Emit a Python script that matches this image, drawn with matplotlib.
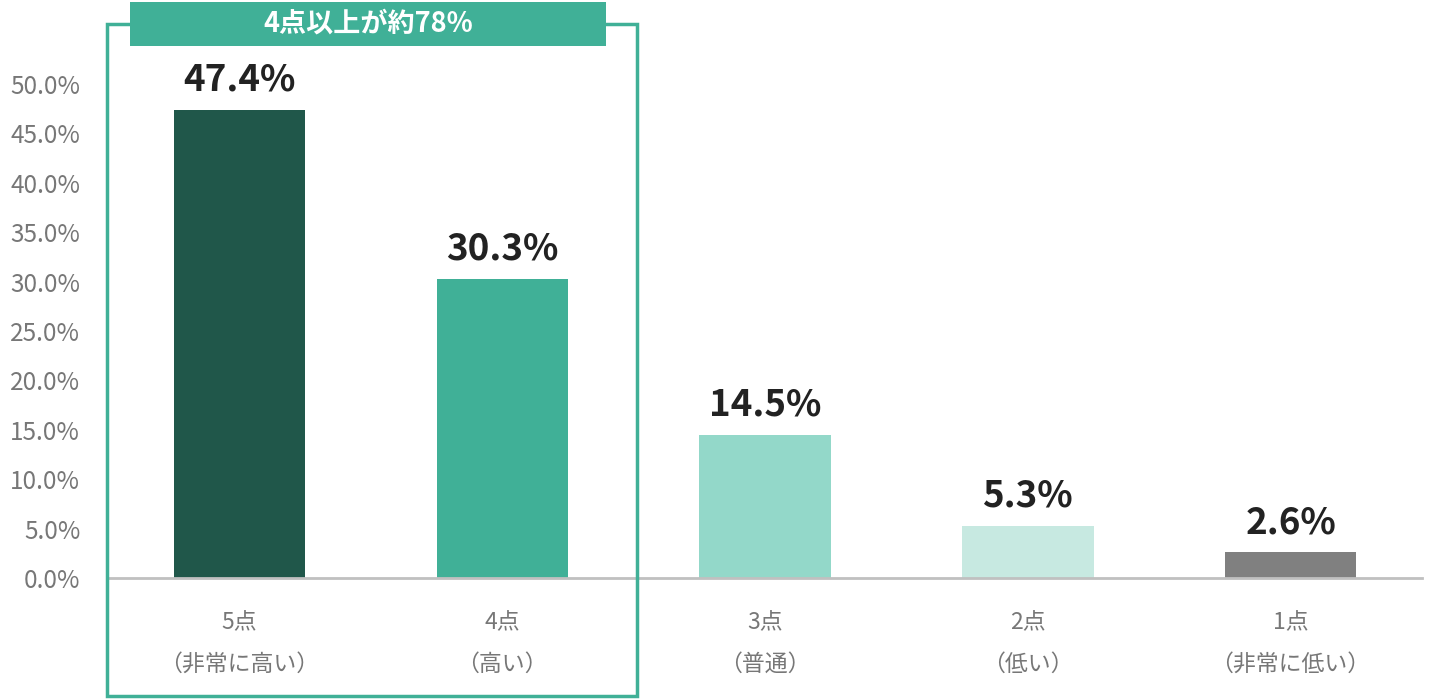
import matplotlib
matplotlib.use("Agg")
import matplotlib.pyplot as plt
from matplotlib.patches import Rectangle

plt.rcParams['font.family'] = ['Noto Sans CJK JP', 'DejaVu Sans']

categories = ["5点\n（非常に高い）", "4点\n（高い）", "3点\n（普通）", "2点\n（低い）", "1点\n（非常に低い）"]
values = [47.4, 30.3, 14.5, 5.3, 2.6]
colors = ["#20574a", "#40b097", "#93d8c9", "#c7e9e1", "#808080"]
yticks = [0, 5, 10, 15, 20, 25, 30, 35, 40, 45, 50]
header = "4点以上が約78%"

fig = plt.figure(figsize=(14.4, 7), dpi=100)
ax = fig.add_axes([108 / 1440, 1 - 578 / 700, (1422 - 108) / 1440, (578 - 84) / 700])

x = list(range(len(values)))
ax.bar(x, values, width=0.5, color=colors, zorder=2)
for xi, v in zip(x, values):
    ax.text(xi, v + 1.1, f"{v:.1f}%", ha="center", va="bottom", fontsize=26.5,
            fontweight="bold", color="#222222", clip_on=False)

ax.set_xlim(-0.5, 4.5)
ax.set_ylim(0, 50)
ax.set_yticks(yticks)
ax.set_yticklabels([f"{t:.1f}%" for t in yticks], fontsize=17.5, color="#777777")
ax.set_xticks(x)
ax.set_xticklabels(categories, fontsize=16.5, color="#777777", linespacing=2.0)
ax.tick_params(axis="both", length=0)
ax.tick_params(axis="y", pad=20)
ax.tick_params(axis="x", pad=24)
for s in ["top", "right", "left"]:
    ax.spines[s].set_visible(False)
ax.spines["bottom"].set_color("#c0c0c0")
ax.spines["bottom"].set_linewidth(2)

# highlight box around the first two bars
fig.patches.append(Rectangle((107 / 1440, 1 - 696 / 700), (637 - 107) / 1440, (696 - 24) / 700,
                             transform=fig.transFigure, fill=False, edgecolor="#40b097",
                             linewidth=2.5, zorder=5))
fig.patches.append(Rectangle((130 / 1440, 1 - 46 / 700), (606 - 130) / 1440, (46 - 2) / 700,
                             transform=fig.transFigure, facecolor="#40b097", edgecolor="none",
                             zorder=6))
fig.text(368 / 1440, 1 - 24 / 700, header, ha="center", va="center", fontsize=19.5,
         fontweight="bold", color="white", zorder=7)

fig.savefig("out.png", dpi=100)
